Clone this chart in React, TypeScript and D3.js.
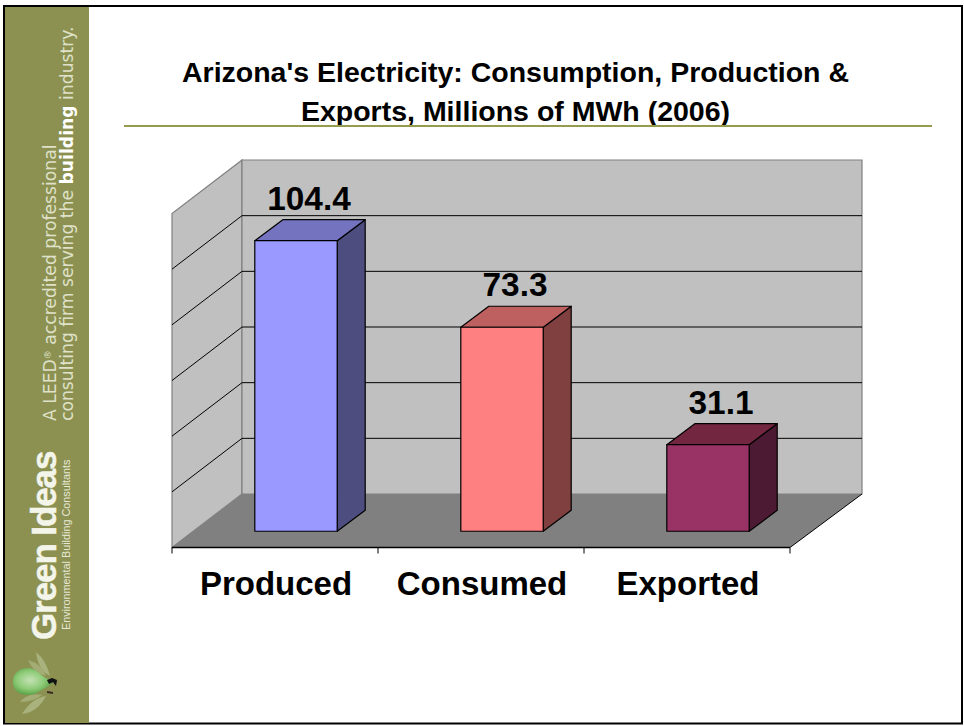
import React from "react";
import * as d3 from "d3";

const categories = ["Produced", "Consumed", "Exported"];
const values = [104.4, 73.3, 31.1];
const valueLabels = ["104.4", "73.3", "31.1"];
const yTicks = [0, 20, 40, 60, 80, 100, 120];
const frontColors = ["#9999ff", "#ff8080", "#993366"];
const sideColors = ["#4d4d80", "#804040", "#4d1a33"];
const topColors = ["#7373bf", "#bf6060", "#732640"];

const W = 964;
const H = 726;
const OLIVE = "#8c9152";

// oblique 3d box
const depthX = 70;
const depthY = 53.5;
const barDepthX = 28;
const barDepthY = 21;
const floorLeft = 172;
const floorRight = 790;
const floorY = 547.5;
const plotH = 334;

const x = d3
  .scaleBand()
  .domain(categories)
  .range([floorLeft, floorRight])
  .paddingInner(0.6)
  .paddingOuter(0.3);
const y = d3.scaleLinear().domain([0, 120]).range([0, plotH]);
const poly = (pts: number[][]) => d3.line()(pts as [number, number][]) + "Z";

export default function App() {
  const backBottom = floorY - depthY;
  const backTop = backBottom - plotH;
  const backLeft = floorLeft + depthX;
  const backRight = floorRight + depthX + 2;
  const barOffX = (depthX - barDepthX) / 2;
  const barOffY = (depthY - barDepthY) / 2;
  const ticksX = [...categories.map((c) => (x(c) as number) - x.step() * 0.3), floorRight];

  return (
    <svg
      width={W}
      height={H}
      style={{ position: "absolute", left: 0, top: 0, background: "#fff" }}
      fontFamily="'Liberation Sans', Arial, sans-serif"
    >
      <defs>
        <radialGradient id="bulb" cx="0.42" cy="0.45" r="0.6">
          <stop offset="0" stopColor="#c4e2b4" />
          <stop offset="0.55" stopColor="#8ecb78" />
          <stop offset="1" stopColor="#4f9a3c" />
        </radialGradient>
      </defs>
      <rect x={4} y={6} width={958} height={717.5} fill="#fff" stroke="#000" strokeWidth={2} />

      {/* sidebar */}
      <rect x={5} y={7} width={84} height={716} fill={OLIVE} />
      <g fontFamily="'DejaVu Sans', sans-serif" fill="#dfe1c8" fontSize={17.2}>
        <text transform="translate(56,421) rotate(-90)">
          A LEED<tspan fontSize={9} dy={-5}>®</tspan>
          <tspan dy={5}> accredited professional</tspan>
        </text>
        <text transform="translate(73,421) rotate(-90)">
          consulting firm serving the <tspan fontWeight={700} fill="#fff">building</tspan> industry.
        </text>
      </g>
      <text transform="translate(56,640) rotate(-90)" fontSize={35} fontWeight={700} fill="#f4f5ea" letterSpacing={-1.1} stroke="#f4f5ea" strokeWidth={0.5}>
        Green Ideas
      </text>
      <text transform="translate(70,630) rotate(-90)" fontSize={10.8} fill="#e6e8d4">
        Environmental Building Consultants
      </text>
      {/* logo */}
      <g>
        <path d="M36 652 Q46 660 50 676 Q38 670 36 652Z" fill="#a9b27c" />
        <path d="M28 660 Q42 664 46 676 Q34 674 28 660Z" fill="#a3ac74" />
        <path d="M22 714 Q38 712 46 696 Q32 698 22 714Z" fill="#a9b27c" />
        <path d="M20 702 Q34 702 42 695 Q28 692 20 702Z" fill="#a3ac74" />
        <path
          d="M13 682 C13 672 21 668 28 668 C36 668 40 675 46 678 L54 682 L47 687 C41 690 36 695 28 695 C20 695 13 691 13 682Z"
          fill="url(#bulb)"
        />
        <path d="M47 680 L52 678 L57 680 L56 686 L53 682 L49 684Z" fill="#111" />
        <path d="M47 691 L53 692 L53 694 L47 693Z" fill="#3a2a20" />
      </g>

      {/* title */}
      <g fontSize={28.5} fontWeight={700} textAnchor="middle" fill="#000">
        <text x={515.5} y={82}>Arizona's Electricity: Consumption, Production &amp;</text>
        <text x={515.5} y={121}>Exports, Millions of MWh (2006)</text>
      </g>
      <line x1={124} x2={932} y1={126} y2={126} stroke="#969b4e" strokeWidth={2} />

      {/* walls */}
      <path
        d={poly([[floorLeft, floorY], [backLeft, backBottom], [backLeft, backTop], [floorLeft, floorY - plotH]])}
        fill="#c0c0c0"
        stroke="#808080"
        strokeWidth={1.2}
      />
      <path
        d={poly([[backLeft, backBottom], [backRight, backBottom], [backRight, backTop], [backLeft, backTop]])}
        fill="#c0c0c0"
        stroke="#808080"
        strokeWidth={1.2}
      />
      {yTicks.slice(1, -1).map((t) => (
        <path
          key={t}
          d={d3.line()([
            [floorLeft, floorY - y(t)],
            [backLeft, backBottom - y(t)],
            [backRight, backBottom - y(t)],
          ]) as string}
          fill="none"
          stroke="#000"
          strokeWidth={1}
        />
      ))}
      <path
        d={poly([[floorLeft, floorY], [floorRight, floorY], [backRight, backBottom], [backLeft, backBottom]])}
        fill="#808080"
      />
      <line x1={floorRight} y1={floorY} x2={backRight} y2={backBottom} stroke="#000" strokeWidth={1} />
      <line x1={floorLeft} y1={floorY} x2={floorRight} y2={floorY} stroke="#000" strokeWidth={1.3} />
      {ticksX.map((t) => (
        <line key={t} x1={t} x2={t} y1={floorY} y2={floorY + 6} stroke="#000" strokeWidth={1} />
      ))}

      {/* bars */}
      {categories.map((c, i) => {
        const x0 = (x(c) as number) + barOffX;
        const x1 = x0 + x.bandwidth();
        const yb = floorY - barOffY;
        const yt = yb - y(values[i]);
        return (
          <g key={c} stroke="#000" strokeWidth={1.2} strokeLinejoin="round">
            <path
              d={poly([[x1, yb], [x1 + barDepthX, yb - barDepthY], [x1 + barDepthX, yt - barDepthY], [x1, yt]])}
              fill={sideColors[i]}
            />
            <path
              d={poly([[x0, yt], [x1, yt], [x1 + barDepthX, yt - barDepthY], [x0 + barDepthX, yt - barDepthY]])}
              fill={topColors[i]}
            />
            <rect x={x0} y={yt} width={x.bandwidth()} height={y(values[i])} fill={frontColors[i]} />
            <text
              x={(x0 + x1 + barDepthX) / 2 - 1}
              y={yt - barDepthY - 10}
              textAnchor="middle"
              fontSize={33.4}
              fontWeight={700}
              fill="#000"
              stroke="none"
            >
              {valueLabels[i]}
            </text>
          </g>
        );
      })}

      {/* category labels */}
      {categories.map((c) => (
        <text
          key={c}
          x={(x(c) as number) + x.bandwidth() / 2 + 1}
          y={595}
          textAnchor="middle"
          fontSize={33}
          fontWeight={700}
          fill="#000"
        >
          {c}
        </text>
      ))}
    </svg>
  );
}
